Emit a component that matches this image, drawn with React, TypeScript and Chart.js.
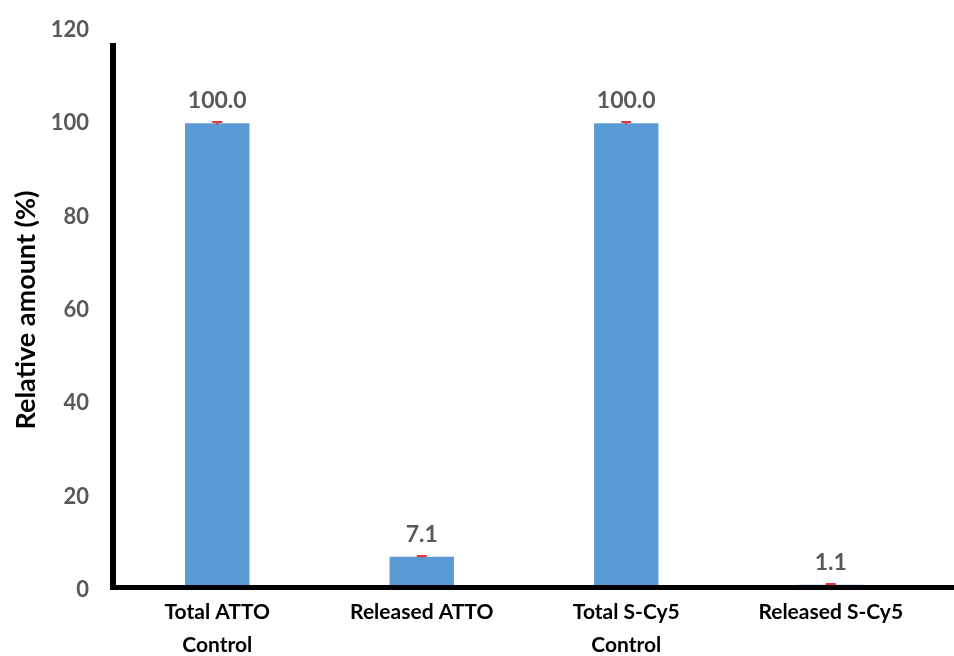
import React, { useEffect, useRef } from "react";
import { Chart, registerables } from "chart.js";

Chart.register(...registerables);

const categories: string[][] = [
  ["Total ATTO", "Control"],
  ["Released ATTO"],
  ["Total S-Cy5", "Control"],
  ["Released S-Cy5"],
];
const values: number[] = [100.0, 7.1, 100.0, 1.1];
const errors: number[] = [0.3, 0.2, 0.3, 0.2];
const yTicks: number[] = [0, 20, 40, 60, 80, 100, 120];

const FONT = "Lato, 'Open Sans', sans-serif";

// Thick black axis lines, red error caps and value labels over each bar.
const decorations = {
  id: "decorations",
  afterDatasetsDraw(chart: any) {
    const { ctx, chartArea, scales } = chart;
    const meta = chart.getDatasetMeta(0);
    const y = scales.y;
    ctx.save();
    // error caps
    ctx.strokeStyle = "#e8343f";
    ctx.lineWidth = 2;
    meta.data.forEach((bar: any, i: number) => {
      const hi = y.getPixelForValue(values[i] + errors[i]);
      const lo = y.getPixelForValue(values[i] - errors[i]);
      ctx.beginPath();
      ctx.moveTo(bar.x, hi);
      ctx.lineTo(bar.x, lo);
      ctx.moveTo(bar.x - 5, hi);
      ctx.lineTo(bar.x + 5, hi);
      ctx.stroke();
    });
    // axes
    ctx.fillStyle = "#000";
    ctx.fillRect(chartArea.left - 5, 43, 6, chartArea.bottom - 43);
    ctx.fillRect(chartArea.left - 5, chartArea.bottom - 5, chart.width, 5);
    // value labels
    ctx.fillStyle = "#595959";
    ctx.font = `bold 23px ${FONT}`;
    ctx.textAlign = "center";
    ctx.textBaseline = "alphabetic";
    meta.data.forEach((bar: any, i: number) => {
      ctx.fillText(values[i].toFixed(1), bar.x, y.getPixelForValue(values[i]) - 15);
    });
    ctx.restore();
  },
};

export default function App() {
  const ref = useRef<HTMLCanvasElement>(null);

  useEffect(() => {
    document.body.style.margin = "0";
    const chart = new Chart(ref.current!, {
      type: "bar",
      data: {
        labels: categories,
        datasets: [
          {
            data: values,
            backgroundColor: "#5b9bd5",
            barPercentage: 0.63,
            categoryPercentage: 0.5,
          },
        ],
      },
      options: {
        animation: false,
        responsive: false,
        layout: { padding: { top: 30, right: 21, left: 0, bottom: 0 } },
        plugins: { legend: { display: false }, tooltip: { enabled: false } },
        scales: {
          x: {
            grid: { display: false, drawTicks: false },
            border: { display: false },
            ticks: {
              color: "#000",
              font: { family: FONT, size: 21, weight: "bold", lineHeight: 1.57 },
              padding: 6,
              maxRotation: 0,
              autoSkip: false,
            },
            afterFit(scale: any) {
              scale.height = 66;
            },
          },
          y: {
            min: 0,
            max: 120,
            afterBuildTicks(scale: any) {
              scale.ticks = yTicks.map((v) => ({ value: v }));
            },
            grid: { display: false, drawTicks: false },
            border: { display: false },
            title: {
              display: true,
              text: "Relative amount (%)",
              color: "#000",
              font: { family: FONT, size: 27, weight: "bold", lineHeight: 1.2 },
              padding: { top: 10, bottom: 0 },
            },
            ticks: {
              color: "#595959",
              font: { family: FONT, size: 22, weight: "bold" },
              padding: 26,
            },
            afterFit(scale: any) {
              scale.width = 115;
              scale.paddingTop = 0;
              scale.paddingBottom = 0;
            },
          },
        },
      },
      plugins: [decorations],
    });
    return () => chart.destroy();
  }, []);

  return (
    <div style={{ width: 954, height: 656, background: "#fff" }}>
      <canvas ref={ref} width={954} height={656} />
    </div>
  );
}
